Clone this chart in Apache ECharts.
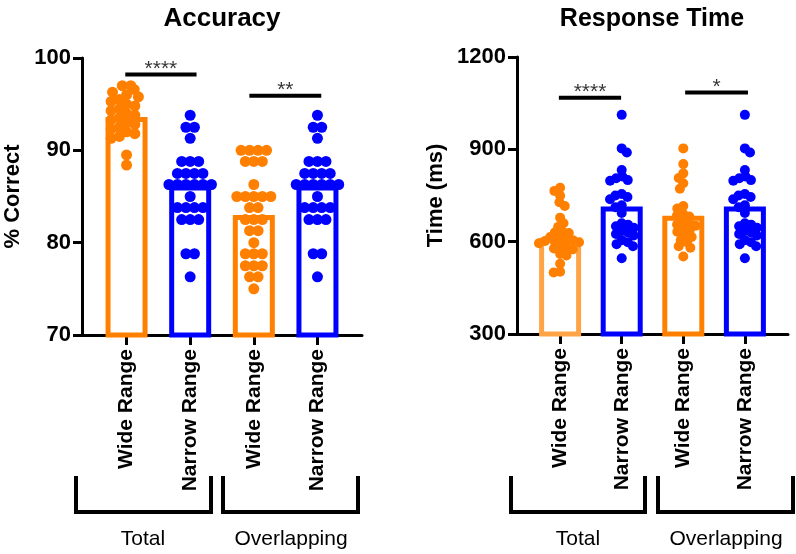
<!DOCTYPE html>
<html>
<head>
<meta charset="utf-8">
<script src="https://cdn.jsdelivr.net/npm/echarts@6/dist/echarts.min.js"></script>
<style>
  html, body { margin: 0; padding: 0; background: #fff; }
  #main { width: 796px; height: 554px; }
</style>
</head>
<body>
<div id="main"></div>
<script>
// categories and groups
var categories = ['Wide Range', 'Narrow Range', 'Wide Range', 'Narrow Range'];
var groups = ['Total', 'Overlapping'];

// bar heights (means)
var accMeans = [93.6, 86.2, 83.0, 86.2];
var rtMeans = [613, 714, 684, 714];

// individual participants, % correct
var accWideTotal = [97.0, 97.0, 96.6, 96.3, 96.0, 95.8, 95.5, 95.3, 95.0, 94.8, 94.5, 94.3, 94.0, 93.8,
  93.5, 93.3, 93.0, 92.8, 92.5, 92.3, 92.0, 91.8, 91.5, 91.3, 89.5, 88.4];
var accNarrow = [93.8, 92.5, 92.5, 91.3, 88.8, 88.8, 88.8, 87.5, 87.5, 87.5, 87.5, 86.3, 86.3, 86.3,
  86.3, 86.3, 86.3, 85.0, 83.8, 83.8, 83.8, 83.8, 82.5, 82.5, 82.5, 78.8, 78.8, 76.3];
var accWideOverlap = [90.0, 90.0, 90.0, 90.0, 88.8, 88.8, 88.8, 86.3, 85.0, 85.0, 85.0, 85.0, 85.0,
  83.8, 83.8, 82.5, 82.5, 82.5, 81.3, 81.3, 80.0, 78.8, 78.8, 78.8, 77.5, 77.5, 77.5, 76.3, 76.3, 75.0];

// individual participants, response time (ms)
var rtWideTotal = [775, 765, 749, 728, 716, 678, 660, 648, 632, 630, 628, 615, 612, 608, 605, 602, 600,
  598, 595, 585, 582, 578, 575, 560, 555, 528, 502, 500];
var rtNarrow = [1012, 903, 890, 833, 812, 806, 800, 798, 755, 750, 745, 738, 718, 712, 693, 660, 655,
  650, 645, 635, 630, 625, 620, 605, 598, 592, 585, 546];
var rtWideOverlap = [903, 852, 822, 807, 790, 772, 716, 708, 690, 685, 682, 662, 660, 656, 652, 640,
  636, 632, 620, 615, 605, 598, 585, 580, 552];

// significance annotations: [from, to, level, text]
var accSig = [[-0.02, 1.1, 98.2, '****'], [1.93, 3.06, 95.9, '**']];
var rtSig = [[-0.02, 0.99, 1068, '****'], [2.03, 3.05, 1085, '*']];

var ORANGE = '#FF8000', LIGHT_ORANGE = '#FFA347', BLUE = '#0000FF';
var FONT = '"Liberation Sans", Arial, sans-serif';

var chart = echarts.init(document.getElementById('main'));

function xAxisFor(grid) {
  return {
    type: 'value', gridIndex: grid, min: -0.7, max: 3.7,
    splitLine: { show: false },
    axisLine: { onZero: false, lineStyle: { color: '#000', width: 3 } },
    axisTick: { show: true, customValues: [0, 1, 2, 3], length: 10, lineStyle: { color: '#000', width: 3 } },
    axisLabel: {
      customValues: [0, 1, 2, 3], rotate: 90, margin: 14,
      fontFamily: FONT, fontWeight: 'bold', fontSize: 21, color: '#000',
      formatter: function (v) { return categories[Math.round(v)]; }
    }
  };
}
function yAxisFor(grid, min, max, interval, name, gap) {
  return {
    type: 'value', gridIndex: grid, min: min, max: max, interval: interval,
    name: name, nameLocation: 'middle', nameGap: gap, nameRotate: 90,
    nameTextStyle: { fontFamily: FONT, fontWeight: 'bold', fontSize: 22, color: '#000' },
    splitLine: { show: false },
    axisLine: { show: true, onZero: false, lineStyle: { color: '#000', width: 3 } },
    axisTick: { show: true, length: 9, lineStyle: { color: '#000', width: 3 } },
    axisLabel: { margin: 11, fontFamily: FONT, fontWeight: 'bold', fontSize: 22, color: '#000',
      formatter: function (v) { return String(v); } }
  };
}

function barSeries(axis, means, colors) {
  return {
    type: 'bar', xAxisIndex: axis, yAxisIndex: axis, barWidth: 42, z: 2,
    data: means.map(function (m, i) {
      return { value: [i, m], itemStyle: { color: '#fff', borderColor: colors[i], borderWidth: 5 } };
    })
  };
}
function dotSeries(axis, color, size) {
  return {
    type: 'scatter', xAxisIndex: axis, yAxisIndex: axis, symbolSize: size, z: 3,
    itemStyle: { color: color, opacity: 1 }, data: []
  };
}
function sigSeries(axis, sig) {
  var out = [];
  sig.forEach(function (s) {
    out.push({
      type: 'line', xAxisIndex: axis, yAxisIndex: axis, symbol: 'none', z: 4,
      lineStyle: { color: '#000', width: 4 }, data: [[s[0], s[2]], [s[1], s[2]]]
    });
    out.push({
      type: 'scatter', xAxisIndex: axis, yAxisIndex: axis, symbolSize: 0, z: 4,
      label: { show: true, position: 'top', distance: -5, formatter: s[3],
        fontFamily: FONT, fontSize: 21, color: '#000' },
      data: [[(s[0] + s[1]) / 2, s[2]]]
    });
  });
  return out;
}

var series = [
  barSeries(0, accMeans, [ORANGE, BLUE, ORANGE, BLUE]),
  barSeries(1, rtMeans, [LIGHT_ORANGE, BLUE, ORANGE, BLUE]),
  dotSeries(0, ORANGE, 11), dotSeries(0, BLUE, 11), dotSeries(0, ORANGE, 11), dotSeries(0, BLUE, 11),
  dotSeries(1, ORANGE, 10), dotSeries(1, BLUE, 10), dotSeries(1, ORANGE, 10), dotSeries(1, BLUE, 10)
].concat(sigSeries(0, accSig), sigSeries(1, rtSig));

function txt(x, y, s, font) {
  return { type: 'text', x: x, y: y, z: 10, style: { text: s, font: font, fill: '#000',
    align: 'center', textAlign: 'center', verticalAlign: 'middle', textVerticalAlign: 'middle' } };
}
function bracket(x1, x2) {
  return { type: 'polyline', z: 10, shape: { points: [[x1, 476], [x1, 512], [x2, 512], [x2, 476]] },
    style: { stroke: '#000', lineWidth: 4, fill: null } };
}

chart.setOption({
  animation: false,
  grid: [
    { left: 82, right: 434, top: 58, bottom: 219 },
    { left: 517, right: 8, top: 57, bottom: 220 }
  ],
  xAxis: [xAxisFor(0), xAxisFor(1)],
  yAxis: [
    yAxisFor(0, 70, 100, 10, '% Correct', 58),
    yAxisFor(1, 300, 1200, 300, 'Time (ms)', 70)
  ],
  series: series,
  graphic: [
    txt(222, 19, 'Accuracy', 'bold 26px ' + FONT),
    txt(652, 19, 'Response Time', 'bold 25px ' + FONT),
    bracket(76, 211), bracket(223, 358), bracket(511, 645), bracket(658, 793),
    txt(143, 539, groups[0], '21px ' + FONT), txt(291, 539, groups[1], '21px ' + FONT),
    txt(578, 539, groups[0], '21px ' + FONT), txt(726, 539, groups[1], '21px ' + FONT)
  ]
});

// beeswarm: spread dots sideways so they do not overlap, using the axes' pixel scale
function swarm(values, grid, cx, diam) {
  var p0 = chart.convertToPixel({ gridIndex: grid }, [0, values[0]]);
  var p1 = chart.convertToPixel({ gridIndex: grid }, [1, values[0]]);
  var pxPerUnit = p1[0] - p0[0];
  var pts = values.map(function (v) {
    return { v: v, py: chart.convertToPixel({ gridIndex: grid }, [cx, v])[1], dx: 0 };
  });
  var order = pts.slice().sort(function (a, b) { return a.py - b.py; });
  var placed = [];
  order.forEach(function (p, k) {
    var ivs = [];
    placed.forEach(function (q) {
      var dy = Math.abs(q.py - p.py);
      if (dy < diam) {
        var w = Math.sqrt(diam * diam - dy * dy);
        ivs.push([q.dx - w, q.dx + w]);
      }
    });
    var cands = [0];
    ivs.forEach(function (iv) { cands.push(iv[0], iv[1]); });
    var sign = k % 2 ? 1 : -1;
    cands.sort(function (a, b) { return Math.abs(a) - Math.abs(b) || sign * (a - b); });
    for (var i = 0; i < cands.length; i++) {
      var c = cands[i];
      if (ivs.every(function (iv) { return c <= iv[0] + 1e-6 || c >= iv[1] - 1e-6; })) { p.dx = c; break; }
    }
    placed.push(p);
  });
  // centre rows of equal values
  var rows = {};
  pts.forEach(function (p) { (rows[p.v] = rows[p.v] || []).push(p); });
  Object.keys(rows).forEach(function (k) {
    var r = rows[k];
    if (r.length > 1) {
      var m = r.reduce(function (s, p) { return s + p.dx; }, 0) / r.length;
      r.forEach(function (p) { p.dx -= m; });
    }
  });
  return pts.map(function (p) { return [cx + p.dx / pxPerUnit, p.v]; });
}

var dotSeriesData = [
  swarm(accWideTotal, 0, 0, 8.5), swarm(accNarrow, 0, 1, 8.5),
  swarm(accWideOverlap, 0, 2, 8.5), swarm(accNarrow, 0, 3, 8.5),
  swarm(rtWideTotal, 1, 0, 6.5), swarm(rtNarrow, 1, 1, 6.5),
  swarm(rtWideOverlap, 1, 2, 6.5), swarm(rtNarrow, 1, 3, 6.5)
];
var upd = [{}, {}];
dotSeriesData.forEach(function (d) { upd.push({ data: d }); });
chart.setOption({ series: upd });
</script>
</body>
</html>
